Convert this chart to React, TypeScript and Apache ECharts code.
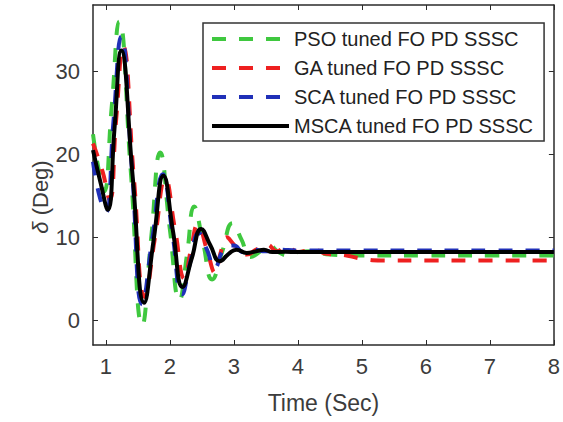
import React, { useEffect, useRef } from "react";
import * as echarts from "echarts";

const xTicks = [1, 2, 3, 4, 5, 6, 7, 8];
const yTicks = [0, 10, 20, 30];

const seriesNames = [
  "PSO tuned FO PD SSSC",
  "GA tuned FO PD SSSC",
  "SCA tuned FO PD SSSC",
  "MSCA tuned FO PD SSSC",
];

const psoT = [0.8, 0.88, 0.97, 1.09, 1.21, 1.39, 1.57, 1.71, 1.85, 2.0, 2.15, 2.27, 2.38, 2.52, 2.66, 2.82, 2.98, 3.12, 3.26, 3.4, 3.55, 3.7, 3.85, 4.0, 4.2, 4.5, 5.0, 6.0, 7.0, 8.0];
const psoY = [22.4, 18.5, 15.5, 25.5, 36.0, 18.0, -0.6, 10.0, 20.2, 11.0, 2.4, 8.0, 13.7, 9.3, 4.9, 8.3, 11.7, 9.7, 7.6, 8.2, 9.0, 8.2, 7.8, 8.2, 8.3, 7.9, 7.8, 7.8, 7.8, 7.8];

const gaT = [0.8, 0.95, 1.06, 1.16, 1.27, 1.44, 1.61, 1.77, 1.93, 2.08, 2.23, 2.33, 2.44, 2.58, 2.71, 2.8, 2.89, 2.98, 3.08, 3.2, 3.35, 3.52, 3.67, 3.83, 4.0, 4.24, 4.45, 4.68, 5.0, 5.3, 6.0, 7.0, 8.0];
const gaY = [21.3, 17.9, 14.5, 24.0, 33.0, 17.0, 2.8, 10.0, 17.0, 11.0, 5.0, 8.5, 11.5, 8.5, 5.7, 8.3, 10.0, 9.3, 8.4, 7.9, 8.5, 9.1, 8.3, 8.9, 8.2, 8.5, 8.0, 7.9, 7.4, 7.2, 7.2, 7.2, 7.2];

const scaT = [0.8, 0.9, 1.0, 1.12, 1.24, 1.41, 1.57, 1.73, 1.89, 2.04, 2.19, 2.32, 2.45, 2.58, 2.7, 2.85, 3.0, 3.15, 3.3, 3.5, 3.7, 4.0, 5.0, 6.0, 7.0, 8.0];
const scaY = [19.1, 15.0, 13.0, 24.0, 34.2, 18.0, 1.9, 10.0, 17.6, 10.5, 3.1, 7.0, 10.5, 8.5, 6.3, 8.6, 9.0, 8.2, 8.5, 8.3, 8.5, 8.4, 8.4, 8.4, 8.4, 8.4];

const mscaT = [0.8, 0.92, 1.03, 1.135, 1.24, 1.42, 1.6, 1.75, 1.9, 2.05, 2.2, 2.345, 2.49, 2.635, 2.78, 2.92, 3.04, 3.2, 3.35, 3.47, 3.6, 3.8, 4.0, 4.5, 5.0, 6.0, 7.0, 8.0];
const mscaY = [20.5, 16.5, 13.3, 23.0, 32.5, 17.3, 2.1, 9.8, 17.4, 10.7, 4.0, 7.5, 11.0, 9.0, 7.1, 8.0, 8.5, 8.1, 8.3, 8.5, 8.2, 8.25, 8.2, 8.2, 8.2, 8.2, 8.2, 8.2];

const colors = ["#3fc83f", "#ee2020", "#2030b8", "#000000"];

const zip = (t: number[], y: number[]) => t.map((v, i) => [v, y[i]]);

export default function App() {
  const ref = useRef<HTMLDivElement>(null);
  useEffect(() => {
    if (!ref.current) return;
    const chart = echarts.init(ref.current, undefined, { renderer: "svg" });
    const font = "Liberation Sans";
    const textColor = "#3c3c3c";
    const axisColor = "#2a2a2a";
    const datasets = [zip(psoT, psoY), zip(gaT, gaY), zip(scaT, scaY), zip(mscaT, mscaY)];
    const baseX = {
      type: "value",
      min: 0.8,
      max: 8,
      splitLine: { show: false },
      axisLine: { show: true, onZero: false, lineStyle: { color: axisColor, width: 1.5 } },
    };
    const baseY = {
      type: "value",
      min: -3,
      max: 38,
      splitLine: { show: false },
      axisLine: { show: true, onZero: false, lineStyle: { color: axisColor, width: 1.5 } },
    };
    chart.setOption({
      animation: false,
      backgroundColor: "#ffffff",
      grid: { left: 93, right: 5, top: 5, bottom: 77, containLabel: false },
      xAxis: [
        {
          ...baseX,
          position: "bottom",
          name: "Time (Sec)",
          nameLocation: "middle",
          nameGap: 46,
          nameTextStyle: { fontFamily: font, fontSize: 23, color: textColor },
          axisTick: { show: true, inside: true, length: 5, customValues: xTicks, lineStyle: { color: axisColor } },
          axisLabel: { show: true, customValues: xTicks, margin: 10, fontFamily: font, fontSize: 22, color: textColor },
        },
        {
          ...baseX,
          position: "top",
          axisTick: { show: true, inside: true, length: 5, customValues: xTicks, lineStyle: { color: axisColor } },
          axisLabel: { show: false },
        },
      ],
      yAxis: [
        {
          ...baseY,
          position: "left",
          axisTick: { show: true, inside: true, length: 5, customValues: yTicks, lineStyle: { color: axisColor } },
          axisLabel: { show: true, customValues: yTicks, margin: 13, fontFamily: font, fontSize: 22, color: textColor },
        },
        {
          ...baseY,
          position: "right",
          axisTick: { show: true, inside: true, length: 5, customValues: yTicks, lineStyle: { color: axisColor } },
          axisLabel: { show: false },
        },
      ],
      legend: {
        orient: "vertical",
        left: 203,
        top: 23,
        padding: [6, 10, 5, 7],
        itemGap: 9,
        itemWidth: 77,
        itemHeight: 20,
        itemTextGap: 2,
        backgroundColor: "#ffffff",
        borderColor: "#333333",
        borderWidth: 1.5,
        borderRadius: 0,
        itemStyle: { opacity: 0 },
        lineStyle: { width: 4 },
        textStyle: { fontFamily: font, fontSize: 20, color: "#222222", lineHeight: 20 },
        data: seriesNames,
      },
      graphic: [
        {
          type: "text",
          x: 40,
          y: 197,
          rotation: Math.PI / 2,
          style: {
            text: "{i|δ} (Deg)",
            fontFamily: font,
            fontSize: 22,
            fill: textColor,
            align: "center",
            verticalAlign: "middle",
            rich: { i: { fontStyle: "italic", fontFamily: font, fontSize: 22, fill: textColor } },
          },
        },
      ],
      series: datasets.map((d, i) => ({
        name: seriesNames[i],
        type: "line",
        data: d,
        smooth: 0.5,
        showSymbol: false,
        symbol: "none",
        color: colors[i],
        lineStyle: {
          color: colors[i],
          width: 4,
          type: i === 3 ? "solid" : [14, 13],
        },
        z: 2 + i,
      })),
    });
    return () => chart.dispose();
  }, []);
  return <div ref={ref} style={{ position: "fixed", left: 0, top: 0, width: 563, height: 422 }} />;
}
